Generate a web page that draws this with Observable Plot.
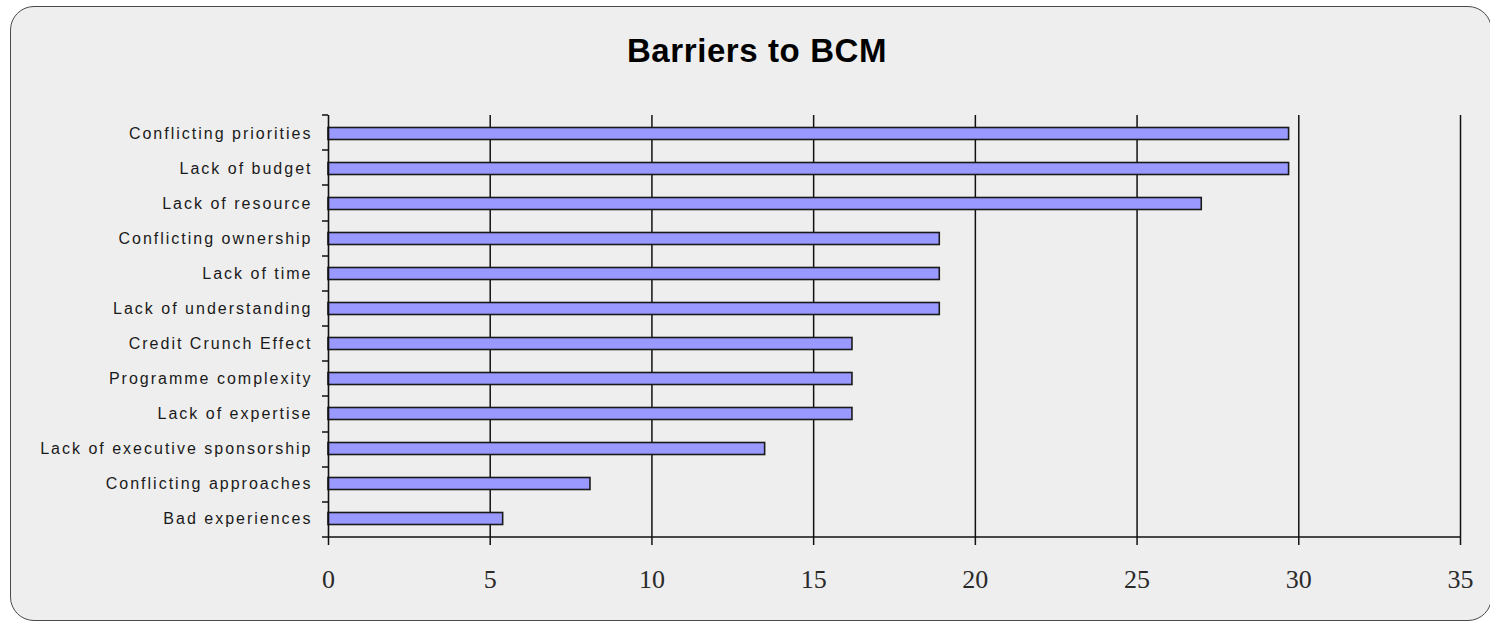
<!DOCTYPE html>
<html>
<head>
<meta charset="utf-8">
<script src="https://cdn.jsdelivr.net/npm/d3@7"></script>
<script src="https://cdn.jsdelivr.net/npm/@observablehq/plot@0.6"></script>
<style>
  body { margin: 0; background: #ffffff; }
  #chart { position: relative; width: 1490px; height: 623px; overflow: hidden; font-family: "Liberation Sans", Arial, sans-serif; }
  .panel { position: absolute; left: 10px; top: 6px; width: 1482px; height: 615px; box-sizing: border-box;
           border: 1.6px solid #4a4a4a; border-radius: 24px; background: #eeeeee; }
  .title { position: absolute; left: 0; width: 1514px; top: 32px; text-align: center; line-height: 33px;
           font: bold 33px "Liberation Sans", Arial, sans-serif; letter-spacing: 0.6px; color: #000; }
  #chart svg { position: absolute; left: 0; top: 0; }
  #chart g[aria-label="text"] text { letter-spacing: 2px; }
  #chart g[aria-label="x-axis tick label"] { font-family: "Liberation Serif", "Times New Roman", serif; font-size: 26px; fill: #2a2a2a; }
</style>
</head>
<body>
<div id="chart">
  <div class="panel"></div>
  <div class="title">Barriers to BCM</div>
</div>
<script>
// Survey responses (% of respondents) per barrier, top to bottom
const categories = [
  "Conflicting priorities",
  "Lack of budget",
  "Lack of resource",
  "Conflicting ownership",
  "Lack of time",
  "Lack of understanding",
  "Credit Crunch Effect",
  "Programme complexity",
  "Lack of expertise",
  "Lack of executive sponsorship",
  "Conflicting approaches",
  "Bad experiences"
];
const values = [29.7, 29.7, 27.0, 18.9, 18.9, 18.9, 16.2, 16.2, 16.2, 13.5, 8.1, 5.4];
const xTicks = [0, 5, 10, 15, 20, 25, 30, 35];

const data = categories.map((name, i) => ({name, value: values[i]}));

const width = 1490, height = 623;
const marginTop = 115, marginBottom = 86, marginLeft = 328, marginRight = 30;

// Short tick marks on the category axis at the edges between bands,
// plus the baseline along the bottom of the bands
function bandEdgeTicks(index, scales, values, dimensions) {
  const {y} = scales;
  const [r0, r1] = y.range();
  const n = y.domain().length;
  const edges = d3.range(n + 1).map(i => Math.round(r0 + (r1 - r0) * i / n));
  const x0 = dimensions.marginLeft;
  const g = d3.create("svg:g").attr("aria-label", "category edge ticks");
  g.selectAll("line").data(edges).join("line")
    .attr("x1", x0 - 6).attr("x2", x0)
    .attr("y1", d => d).attr("y2", d => d)
    .attr("stroke", "#111").attr("stroke-width", 1.5);
  g.append("line")
    .attr("x1", x0).attr("x2", dimensions.width - dimensions.marginRight)
    .attr("y1", r1).attr("y2", r1)
    .attr("stroke", "#111").attr("stroke-width", 1.6);
  return g.node();
}

const plot = Plot.plot({
  width, height, marginTop, marginBottom, marginLeft, marginRight,
  style: {background: "transparent", overflow: "visible"},
  x: {domain: [0, 35], label: null},
  y: {domain: categories, padding: 0, label: null, axis: null},
  marks: [
    Plot.gridX(xTicks.slice(1), {stroke: "#111", strokeOpacity: 1, strokeWidth: 1.5}),
    Plot.barX(data, {
      x: "value", y: "name",
      fill: "#9999ff", stroke: "#1a1a1a", strokeWidth: 1.6,
      insetTop: 11.5, insetBottom: 11.5
    }),
    Plot.ruleX([0], {stroke: "#111", strokeWidth: 1.6}),
    bandEdgeTicks,
    // category labels, right-aligned against the axis
    Plot.text(data, {
      y: "name", text: "name", frameAnchor: "left", textAnchor: "end", dx: -16,
      fontSize: 16, fontFamily: "Liberation Sans, Arial, sans-serif", fill: "#1a1a1a"
    }),
    // value axis ticks and labels
    Plot.axisX({ticks: xTicks, tickSize: 8, tickPadding: 24, stroke: "#111", strokeWidth: 1.5, label: null, tickFormat: d3.format("d")})
  ]
});

document.getElementById("chart").appendChild(plot);
</script>
</body>
</html>
